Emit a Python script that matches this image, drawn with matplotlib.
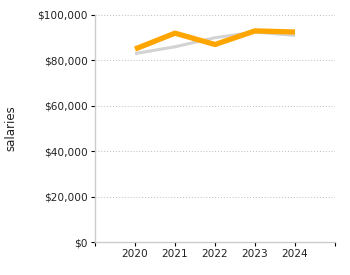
import matplotlib
matplotlib.use("Agg")
import matplotlib.pyplot as plt
from matplotlib.ticker import FuncFormatter

years = [2020, 2021, 2022, 2023, 2024]
salaries_gray = [83000, 86000, 90000, 92500, 91000]
salaries_orange = [85000, 92000, 87000, 93000, 92500]

fig = plt.figure(figsize=(3.5, 2.75), dpi=100)
ax = fig.add_axes([95 / 350, 33 / 275, 240 / 350, 227 / 275])

ax.plot(years, salaries_gray, color="#d3d3d3", lw=2.2, solid_capstyle="butt")
ax.plot(years, salaries_orange, color="#ffa500", lw=3.8, solid_capstyle="butt")

ax.set_xlim(2019, 2025)
ax.set_ylim(0, 100000)
ax.set_xticks(range(2019, 2026))
ax.set_xticklabels([""] + [str(y) for y in years] + [""])
ax.set_yticks(range(0, 100001, 20000))
ax.yaxis.set_major_formatter(FuncFormatter(lambda v, p: f"${v:,.0f}"))

ax.grid(axis="y", linestyle=(0, (1, 2)), color="#bbbbbb", lw=0.7)
ax.set_axisbelow(True)
for s in ["top", "right"]:
    ax.spines[s].set_visible(False)
for s in ["left", "bottom"]:
    ax.spines[s].set_color("#cccccc")
    ax.spines[s].set_linewidth(1)
ax.tick_params(length=3, width=0.8, color="black", labelsize=7.6, pad=2,
               labelcolor="#222222")
ax.set_ylabel("salaries", fontsize=8.5, color="#222222")
ax.yaxis.set_label_coords(-78 / 240, 0.5)

fig.savefig("out.png", dpi=100)
